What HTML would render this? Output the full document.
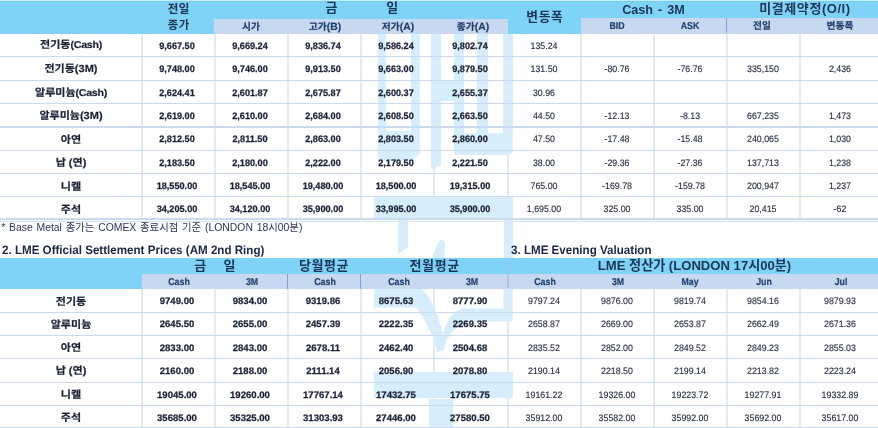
<!DOCTYPE html>
<html lang="ko"><head><meta charset="utf-8"><title>LME</title>
<style>
html,body{margin:0;padding:0;}
body{width:878px;height:428px;overflow:hidden;background:#fff;position:relative;
 font-family:"Liberation Sans","Noto Sans CJK KR",sans-serif;color:#1a2035;}
#root{position:absolute;left:0;top:0;width:878px;height:428px;overflow:hidden;opacity:0.999;filter:blur(0.35px);}
.b{position:absolute;}
.t{position:absolute;height:20px;line-height:20px;text-align:center;white-space:nowrap;}
.h1{font-size:11.4px;font-weight:bold;color:#1b3556;letter-spacing:0.6px;}
.h1b{font-size:13px;font-weight:bold;color:#1b3556;}
.h1c{font-size:12.8px;font-weight:bold;color:#1b3556;letter-spacing:0.7px;}
.h1d{font-size:12.6px;font-weight:bold;color:#1b3556;word-spacing:1.5px;}
.h1e{font-size:13px;font-weight:bold;color:#1b3556;letter-spacing:0.55px;}
.h2{font-size:13px;font-weight:bold;color:#1b3556;letter-spacing:0.6px;}
.h2d{font-size:13.1px;font-weight:bold;color:#1b3556;}
.sh{font-size:9.7px;font-weight:bold;color:#223f6b;-webkit-text-stroke:0.2px #223f6b;transform:rotate(0.03deg);}
.sh i{font-style:normal;font-size:10.4px;}
.shl{transform:rotate(0.03deg) scaleX(0.88);font-size:10px;}
.lab{font-size:10.3px;font-weight:bold;color:#1a2035;-webkit-text-stroke:0.2px #1a2035;transform:rotate(0.03deg) scaleX(1.07);}
.lab i{font-style:normal;font-size:10px;letter-spacing:-0.3px;}
.nb{font-size:9.4px;font-weight:bold;color:#1a2035;transform:rotate(0.03deg) scaleX(0.975);-webkit-text-stroke:0.25px #1a2035;}
.nb2{transform:rotate(0.03deg) scaleX(1.02);}
.nr{font-size:9.4px;color:#2a3045;transform:rotate(0.03deg) scaleX(0.94);-webkit-text-stroke:0.15px #2a3045;}
.note{font-size:10.4px;color:#27365a;word-spacing:0.9px;}
.sec{font-size:12.2px;font-weight:bold;color:#1a2745;transform-origin:0 50%;transform:rotate(0.03deg) scaleX(0.952);}
</style></head>
<body><div id="root">
<div class="b wm" style="left:0;top:0;width:878px;height:428px">
<div class="b" style="left:377.7px;top:33px;width:8.4px;height:100px;background:#d6edfb"></div>
<div class="b" style="left:410.6px;top:33px;width:9.8px;height:100px;background:#d6edfb"></div>
<div class="b" style="left:430.9px;top:33px;width:10.5px;height:133px;background:#d6edfb"></div>
<div class="b" style="left:430.9px;top:166px;width:5.1px;height:3px;background:#d6edfb"></div>
<div class="b" style="left:441.4px;top:80px;width:12.6px;height:21px;background:#d6edfb"></div>
<div class="b" style="left:454px;top:33px;width:9.8px;height:102px;background:#d6edfb"></div>
<div class="b" style="left:477px;top:33px;width:10.6px;height:102px;background:#d6edfb"></div>
<div class="b" style="left:503px;top:33px;width:9.8px;height:102px;background:#d6edfb"></div>
<div class="b" style="left:374.4px;top:197.1px;width:138.5px;height:21.5px;background:#d6edfb"></div>
<div class="b" style="left:503.6px;top:218.6px;width:9.3px;height:40px;background:#d6edfb"></div>
<div class="b" style="left:373.5px;top:372.3px;width:139.2px;height:26.2px;background:#d6edfb"></div>
<div class="b" style="left:428.6px;top:398.5px;width:24.3px;height:30px;background:#d6edfb"></div>
<div class="b" style="left:377.7px;top:130.5px;width:42.7px;height:30.1px;background:#d6edfb;clip-path:polygon(0.0px 0.0px,42.7px 0.0px,42.7px 22.5px,34.3px 30.1px,0.0px 30.1px)"></div>
<div class="b" style="left:454px;top:133.3px;width:58.8px;height:21.7px;background:#d6edfb;clip-path:polygon(0.0px 0.0px,58.8px 0.0px,58.8px 19.7px,55.3px 21.7px,0.0px 21.7px)"></div>
<div class="b" style="left:397.8px;top:218.6px;width:10.2px;height:35.4px;background:#d6edfb;clip-path:polygon(0.0px 0.0px,10.2px 0.0px,10.2px 28.4px,0.0px 35.4px)"></div>
<div class="b" style="left:431.4px;top:239.2px;width:13.3px;height:19.3px;background:#d6edfb;clip-path:polygon(8.4px 0.0px,13.3px 2.3px,13.3px 19.3px,0.0px 19.3px)"></div>
<div class="b" style="left:373.5px;top:289px;width:70.6px;height:63.3px;background:#d6edfb;clip-path:polygon(0.0px 0.0px,48.6px 0.0px,53.5px 5.5px,57.0px 11.0px,61.1px 19.0px,64.5px 27.8px,67.1px 36.0px,69.1px 44.6px,70.6px 60.5px,63.5px 63.3px,62.6px 57.7px,59.7px 49.5px,56.5px 42.0px,54.2px 37.0px,49.0px 27.5px,43.0px 18.4px,0.0px 18.4px)"></div>
<div class="b" style="left:441.7px;top:289px;width:71.0px;height:61.4px;background:#d6edfb;clip-path:polygon(61.7px 0.0px,71.0px 0.0px,71.0px 32.4px,29.0px 32.4px,20.3px 36.0px,14.0px 39.5px,8.8px 45.0px,4.7px 52.0px,1.9px 61.4px,0.0px 52.0px,1.9px 42.7px,4.8px 35.0px,8.4px 27.8px,14.3px 22.5px,21.5px 19.4px,61.7px 19.4px)"></div>
</div>
<div class="b" style="left:0.00px;top:0.00px;width:878.00px;height:18.90px;background:#7fd3f7;"></div>
<div class="b" style="left:0.00px;top:18.70px;width:215.00px;height:15.30px;background:#7fd3f7;"></div>
<div class="b" style="left:213.80px;top:18.70px;width:294.20px;height:15.30px;background:#c6d9f1;"></div>
<div class="b" style="left:508.00px;top:18.70px;width:73.00px;height:15.30px;background:#7fd3f7;"></div>
<div class="b" style="left:581.00px;top:17.80px;width:297.00px;height:16.20px;background:#c6d9f1;"></div>
<div class="b" style="left:0.00px;top:0.00px;width:878.00px;height:1.00px;background:#bff1fe;"></div>
<div class="b" style="left:0.00px;top:1.00px;width:878.00px;height:1.00px;background:#7bc9ee;"></div>
<div class="b" style="left:725.80px;top:18.20px;width:1.20px;height:15.20px;background:#7f9fd2;"></div>
<div class="b" style="left:141.45px;top:34.00px;width:1.10px;height:185.20px;background:#deeaf5;"></div>
<div class="b" style="left:214.45px;top:34.00px;width:1.10px;height:185.20px;background:#deeaf5;"></div>
<div class="b" style="left:287.45px;top:34.00px;width:1.10px;height:185.20px;background:#deeaf5;"></div>
<div class="b" style="left:360.45px;top:34.00px;width:1.10px;height:185.20px;background:#deeaf5;"></div>
<div class="b" style="left:433.45px;top:34.00px;width:1.10px;height:185.20px;background:#deeaf5;"></div>
<div class="b" style="left:507.45px;top:34.00px;width:1.10px;height:185.20px;background:#deeaf5;"></div>
<div class="b" style="left:580.45px;top:34.00px;width:1.10px;height:185.20px;background:#deeaf5;"></div>
<div class="b" style="left:653.45px;top:34.00px;width:1.10px;height:185.20px;background:#deeaf5;"></div>
<div class="b" style="left:726.45px;top:34.00px;width:1.10px;height:185.20px;background:#deeaf5;"></div>
<div class="b" style="left:799.45px;top:34.00px;width:1.10px;height:185.20px;background:#deeaf5;"></div>
<div class="b" style="left:0.00px;top:56.15px;width:878.00px;height:1.25px;background:#cbdbef;"></div>
<div class="b" style="left:0.00px;top:79.75px;width:878.00px;height:1.25px;background:#cbdbef;"></div>
<div class="b" style="left:0.00px;top:103.05px;width:878.00px;height:1.25px;background:#cbdbef;"></div>
<div class="b" style="left:0.00px;top:126.45px;width:878.00px;height:1.25px;background:#cbdbef;"></div>
<div class="b" style="left:0.00px;top:149.75px;width:878.00px;height:1.25px;background:#cbdbef;"></div>
<div class="b" style="left:0.00px;top:172.95px;width:878.00px;height:1.25px;background:#cbdbef;"></div>
<div class="b" style="left:0.00px;top:195.95px;width:878.00px;height:1.25px;background:#cbdbef;"></div>
<div class="b" style="left:0.00px;top:218.40px;width:878.00px;height:1.20px;background:#cbdbef;"></div>
<div class="b" style="left:0.00px;top:221.10px;width:878.00px;height:1.10px;background:#d6e3f3;"></div>
<div class="t h1" style="left:98.80px;top:-0.70px;width:160px;">전일</div>
<div class="t h1" style="left:98.80px;top:15.30px;width:160px;">종가</div>
<div class="t h1b" style="left:251.60px;top:-1.60px;width:160px;">금</div>
<div class="t h1b" style="left:312.20px;top:-1.60px;width:160px;">일</div>
<div class="t h1c" style="left:464.90px;top:7.00px;width:160px;">변동폭</div>
<div class="t h1d" style="left:573.40px;top:-0.40px;width:160px;">Cash - 3M</div>
<div class="t h1e" style="left:725.00px;top:-1.40px;width:160px;">미결제약정(O/I)</div>
<div class="t sh" style="left:171.25px;top:17.00px;width:160px;">시가</div>
<div class="t sh" style="left:244.70px;top:17.00px;width:160px;">고가<i>(B)</i></div>
<div class="t sh" style="left:318.20px;top:17.00px;width:160px;">저가<i>(A)</i></div>
<div class="t sh" style="left:392.55px;top:17.00px;width:160px;">종가<i>(A)</i></div>
<div class="t sh shl" style="left:537.40px;top:16.30px;width:160px;">BID</div>
<div class="t sh shl" style="left:610.05px;top:16.30px;width:160px;">ASK</div>
<div class="t sh" style="left:681.95px;top:16.30px;width:160px;">전일</div>
<div class="t sh" style="left:760.40px;top:16.30px;width:160px;">변동폭</div>
<div class="t lab" style="left:-8.70px;top:35.40px;width:160px;">전기동<i>(Cash)</i></div>
<div class="t nb" style="left:97.20px;top:35.90px;width:160px;">9,667.50</div>
<div class="t nb" style="left:170.20px;top:35.90px;width:160px;">9,669.24</div>
<div class="t nb" style="left:243.20px;top:35.90px;width:160px;">9,836.74</div>
<div class="t nb" style="left:316.20px;top:35.90px;width:160px;">9,586.24</div>
<div class="t nb" style="left:389.70px;top:35.90px;width:160px;">9,802.74</div>
<div class="t nr" style="left:463.50px;top:35.80px;width:160px;">135.24</div>
<div class="t lab" style="left:-8.70px;top:59.00px;width:160px;">전기동(3M)</div>
<div class="t nb" style="left:97.20px;top:59.30px;width:160px;">9,748.00</div>
<div class="t nb" style="left:170.20px;top:59.30px;width:160px;">9,746.00</div>
<div class="t nb" style="left:243.20px;top:59.30px;width:160px;">9,913.50</div>
<div class="t nb" style="left:316.20px;top:59.30px;width:160px;">9,663.00</div>
<div class="t nb" style="left:389.70px;top:59.30px;width:160px;">9,879.50</div>
<div class="t nr" style="left:463.50px;top:59.20px;width:160px;">131.50</div>
<div class="t nr" style="left:536.50px;top:59.20px;width:160px;">-80.76</div>
<div class="t nr" style="left:609.50px;top:59.20px;width:160px;">-76.76</div>
<div class="t nr" style="left:682.50px;top:59.20px;width:160px;">335,150</div>
<div class="t nr" style="left:760.10px;top:59.20px;width:160px;">2,436</div>
<div class="t lab" style="left:-8.70px;top:82.65px;width:160px;">알루미늄<i>(Cash)</i></div>
<div class="t nb" style="left:97.20px;top:82.75px;width:160px;">2,624.41</div>
<div class="t nb" style="left:170.20px;top:82.75px;width:160px;">2,601.87</div>
<div class="t nb" style="left:243.20px;top:82.75px;width:160px;">2,675.87</div>
<div class="t nb" style="left:316.20px;top:82.75px;width:160px;">2,600.37</div>
<div class="t nb" style="left:389.70px;top:82.75px;width:160px;">2,655.37</div>
<div class="t nr" style="left:463.50px;top:82.65px;width:160px;">30.96</div>
<div class="t lab" style="left:-8.70px;top:106.20px;width:160px;">알루미늄(3M)</div>
<div class="t nb" style="left:97.20px;top:106.10px;width:160px;">2,619.00</div>
<div class="t nb" style="left:170.20px;top:106.10px;width:160px;">2,610.00</div>
<div class="t nb" style="left:243.20px;top:106.10px;width:160px;">2,684.00</div>
<div class="t nb" style="left:316.20px;top:106.10px;width:160px;">2,608.50</div>
<div class="t nb" style="left:389.70px;top:106.10px;width:160px;">2,663.50</div>
<div class="t nr" style="left:463.50px;top:106.00px;width:160px;">44.50</div>
<div class="t nr" style="left:536.50px;top:106.00px;width:160px;">-12.13</div>
<div class="t nr" style="left:609.50px;top:106.00px;width:160px;">-8.13</div>
<div class="t nr" style="left:682.50px;top:106.00px;width:160px;">667,235</div>
<div class="t nr" style="left:760.10px;top:106.00px;width:160px;">1,473</div>
<div class="t lab" style="left:-8.70px;top:129.75px;width:160px;">아연</div>
<div class="t nb" style="left:97.20px;top:129.45px;width:160px;">2,812.50</div>
<div class="t nb" style="left:170.20px;top:129.45px;width:160px;">2,811.50</div>
<div class="t nb" style="left:243.20px;top:129.45px;width:160px;">2,863.00</div>
<div class="t nb" style="left:316.20px;top:129.45px;width:160px;">2,803.50</div>
<div class="t nb" style="left:389.70px;top:129.45px;width:160px;">2,860.00</div>
<div class="t nr" style="left:463.50px;top:129.35px;width:160px;">47.50</div>
<div class="t nr" style="left:536.50px;top:129.35px;width:160px;">-17.48</div>
<div class="t nr" style="left:609.50px;top:129.35px;width:160px;">-15.48</div>
<div class="t nr" style="left:682.50px;top:129.35px;width:160px;">240,065</div>
<div class="t nr" style="left:760.10px;top:129.35px;width:160px;">1,030</div>
<div class="t lab" style="left:-8.70px;top:153.20px;width:160px;">납 (연)</div>
<div class="t nb" style="left:97.20px;top:152.70px;width:160px;">2,183.50</div>
<div class="t nb" style="left:170.20px;top:152.70px;width:160px;">2,180.00</div>
<div class="t nb" style="left:243.20px;top:152.70px;width:160px;">2,222.00</div>
<div class="t nb" style="left:316.20px;top:152.70px;width:160px;">2,179.50</div>
<div class="t nb" style="left:389.70px;top:152.70px;width:160px;">2,221.50</div>
<div class="t nr" style="left:463.50px;top:152.60px;width:160px;">38.00</div>
<div class="t nr" style="left:536.50px;top:152.60px;width:160px;">-29.36</div>
<div class="t nr" style="left:609.50px;top:152.60px;width:160px;">-27.36</div>
<div class="t nr" style="left:682.50px;top:152.60px;width:160px;">137,713</div>
<div class="t nr" style="left:760.10px;top:152.60px;width:160px;">1,238</div>
<div class="t lab" style="left:-8.70px;top:176.50px;width:160px;">니켈</div>
<div class="t nb" style="left:97.20px;top:175.80px;width:160px;">18,550.00</div>
<div class="t nb" style="left:170.20px;top:175.80px;width:160px;">18,545.00</div>
<div class="t nb" style="left:243.20px;top:175.80px;width:160px;">19,480.00</div>
<div class="t nb" style="left:316.20px;top:175.80px;width:160px;">18,500.00</div>
<div class="t nb" style="left:389.70px;top:175.80px;width:160px;">19,315.00</div>
<div class="t nr" style="left:463.50px;top:175.70px;width:160px;">765.00</div>
<div class="t nr" style="left:536.50px;top:175.70px;width:160px;">-169.78</div>
<div class="t nr" style="left:609.50px;top:175.70px;width:160px;">-159.78</div>
<div class="t nr" style="left:682.50px;top:175.70px;width:160px;">200,947</div>
<div class="t nr" style="left:760.10px;top:175.70px;width:160px;">1,237</div>
<div class="t lab" style="left:-8.70px;top:199.60px;width:160px;">주석</div>
<div class="t nb" style="left:97.20px;top:198.70px;width:160px;">34,205.00</div>
<div class="t nb" style="left:170.20px;top:198.70px;width:160px;">34,120.00</div>
<div class="t nb" style="left:243.20px;top:198.70px;width:160px;">35,900.00</div>
<div class="t nb" style="left:316.20px;top:198.70px;width:160px;">33,995.00</div>
<div class="t nb" style="left:389.70px;top:198.70px;width:160px;">35,900.00</div>
<div class="t nr" style="left:463.50px;top:198.60px;width:160px;">1,695.00</div>
<div class="t nr" style="left:536.50px;top:198.60px;width:160px;">325.00</div>
<div class="t nr" style="left:609.50px;top:198.60px;width:160px;">335.00</div>
<div class="t nr" style="left:682.50px;top:198.60px;width:160px;">20,415</div>
<div class="t nr" style="left:760.10px;top:198.60px;width:160px;">-62</div>
<div class="t note" style="left:1.2px;top:217.90px;text-align:left;">* Base Metal 종가는 COMEX 종료시점 기준 (LONDON 18시00분)</div>
<div class="t sec" style="left:1.5px;top:239.90px;text-align:left;">2. LME Official Settlement Prices (AM 2nd Ring)</div>
<div class="t sec" style="left:511px;top:239.90px;text-align:left;">3. LME Evening Valuation</div>
<div class="b" style="left:0.00px;top:258.20px;width:878.00px;height:15.50px;background:#7fd3f7;"></div>
<div class="b" style="left:0.00px;top:273.50px;width:142.00px;height:15.70px;background:#7fd3f7;"></div>
<div class="b" style="left:142.00px;top:273.50px;width:736.00px;height:15.70px;background:#c6d9f1;"></div>
<div class="b" style="left:286.80px;top:274.00px;width:1.20px;height:14.70px;background:#7f9fd2;"></div>
<div class="b" style="left:359.80px;top:274.00px;width:1.20px;height:14.70px;background:#7f9fd2;"></div>
<div class="b" style="left:506.50px;top:273.50px;width:2.80px;height:14.50px;background:#b0c3e1;"></div>
<div class="b" style="left:506.50px;top:259.40px;width:2.80px;height:14.10px;background:#9cc5ea;"></div>
<div class="b" style="left:141.45px;top:289.20px;width:1.10px;height:138.80px;background:#deeaf5;"></div>
<div class="b" style="left:214.45px;top:289.20px;width:1.10px;height:138.80px;background:#deeaf5;"></div>
<div class="b" style="left:287.45px;top:289.20px;width:1.10px;height:138.80px;background:#deeaf5;"></div>
<div class="b" style="left:360.45px;top:289.20px;width:1.10px;height:138.80px;background:#deeaf5;"></div>
<div class="b" style="left:433.45px;top:289.20px;width:1.10px;height:138.80px;background:#deeaf5;"></div>
<div class="b" style="left:507.45px;top:289.20px;width:1.10px;height:138.80px;background:#deeaf5;"></div>
<div class="b" style="left:580.45px;top:289.20px;width:1.10px;height:138.80px;background:#deeaf5;"></div>
<div class="b" style="left:653.45px;top:289.20px;width:1.10px;height:138.80px;background:#deeaf5;"></div>
<div class="b" style="left:726.45px;top:289.20px;width:1.10px;height:138.80px;background:#deeaf5;"></div>
<div class="b" style="left:799.45px;top:289.20px;width:1.10px;height:138.80px;background:#deeaf5;"></div>
<div class="b" style="left:0.00px;top:311.55px;width:878.00px;height:1.25px;background:#cbdbef;"></div>
<div class="b" style="left:0.00px;top:334.75px;width:878.00px;height:1.25px;background:#cbdbef;"></div>
<div class="b" style="left:0.00px;top:358.15px;width:878.00px;height:1.25px;background:#cbdbef;"></div>
<div class="b" style="left:0.00px;top:381.55px;width:878.00px;height:1.25px;background:#cbdbef;"></div>
<div class="b" style="left:0.00px;top:404.95px;width:878.00px;height:1.25px;background:#cbdbef;"></div>
<div class="b" style="left:0.00px;top:427.25px;width:878.00px;height:1.25px;background:#cbdbef;"></div>
<div class="t h1b" style="left:120.20px;top:255.80px;width:160px;">금</div>
<div class="t h1b" style="left:149.50px;top:255.80px;width:160px;">일</div>
<div class="t h2" style="left:244.00px;top:255.90px;width:160px;">당월평균</div>
<div class="t h2" style="left:354.70px;top:255.90px;width:160px;">전월평균</div>
<div class="t h2d" style="left:544.50px;top:256.00px;width:300px;">LME 정산가 (LONDON 17시00분)</div>
<div class="t sh shl" style="left:98.80px;top:272.00px;width:160px;">Cash</div>
<div class="t sh shl" style="left:171.85px;top:272.00px;width:160px;">3M</div>
<div class="t sh shl" style="left:244.90px;top:272.00px;width:160px;">Cash</div>
<div class="t sh shl" style="left:318.60px;top:272.00px;width:160px;">Cash</div>
<div class="t sh shl" style="left:391.95px;top:272.00px;width:160px;">3M</div>
<div class="t sh shl" style="left:464.75px;top:272.00px;width:160px;">Cash</div>
<div class="t sh shl" style="left:537.80px;top:272.00px;width:160px;">3M</div>
<div class="t sh shl" style="left:610.25px;top:272.00px;width:160px;">May</div>
<div class="t sh shl" style="left:683.55px;top:272.00px;width:160px;">Jun</div>
<div class="t sh shl" style="left:761.20px;top:272.00px;width:160px;">Jul</div>
<div class="t lab" style="left:-8.70px;top:291.60px;width:160px;">전기동</div>
<div class="t nb nb2" style="left:97.20px;top:291.00px;width:160px;">9749.00</div>
<div class="t nb nb2" style="left:170.20px;top:291.00px;width:160px;">9834.00</div>
<div class="t nb nb2" style="left:243.20px;top:291.00px;width:160px;">9319.86</div>
<div class="t nb nb2" style="left:316.20px;top:291.00px;width:160px;">8675.63</div>
<div class="t nb nb2" style="left:389.70px;top:291.00px;width:160px;">8777.90</div>
<div class="t nr" style="left:463.50px;top:291.00px;width:160px;">9797.24</div>
<div class="t nr" style="left:536.50px;top:291.00px;width:160px;">9876.00</div>
<div class="t nr" style="left:609.50px;top:291.00px;width:160px;">9819.74</div>
<div class="t nr" style="left:682.50px;top:291.00px;width:160px;">9854.16</div>
<div class="t nr" style="left:760.10px;top:291.00px;width:160px;">9879.93</div>
<div class="t lab" style="left:-8.70px;top:314.70px;width:160px;">알루미늄</div>
<div class="t nb nb2" style="left:97.20px;top:314.22px;width:160px;">2645.50</div>
<div class="t nb nb2" style="left:170.20px;top:314.22px;width:160px;">2655.00</div>
<div class="t nb nb2" style="left:243.20px;top:314.22px;width:160px;">2457.39</div>
<div class="t nb nb2" style="left:316.20px;top:314.22px;width:160px;">2222.35</div>
<div class="t nb nb2" style="left:389.70px;top:314.22px;width:160px;">2269.35</div>
<div class="t nr" style="left:463.50px;top:314.20px;width:160px;">2658.87</div>
<div class="t nr" style="left:536.50px;top:314.20px;width:160px;">2669.00</div>
<div class="t nr" style="left:609.50px;top:314.20px;width:160px;">2653.87</div>
<div class="t nr" style="left:682.50px;top:314.20px;width:160px;">2662.49</div>
<div class="t nr" style="left:760.10px;top:314.20px;width:160px;">2671.36</div>
<div class="t lab" style="left:-8.70px;top:338.00px;width:160px;">아연</div>
<div class="t nb nb2" style="left:97.20px;top:337.64px;width:160px;">2833.00</div>
<div class="t nb nb2" style="left:170.20px;top:337.64px;width:160px;">2843.00</div>
<div class="t nb nb2" style="left:243.20px;top:337.64px;width:160px;">2678.11</div>
<div class="t nb nb2" style="left:316.20px;top:337.64px;width:160px;">2462.40</div>
<div class="t nb nb2" style="left:389.70px;top:337.64px;width:160px;">2504.68</div>
<div class="t nr" style="left:463.50px;top:337.60px;width:160px;">2835.52</div>
<div class="t nr" style="left:536.50px;top:337.60px;width:160px;">2852.00</div>
<div class="t nr" style="left:609.50px;top:337.60px;width:160px;">2849.52</div>
<div class="t nr" style="left:682.50px;top:337.60px;width:160px;">2849.23</div>
<div class="t nr" style="left:760.10px;top:337.60px;width:160px;">2855.03</div>
<div class="t lab" style="left:-8.70px;top:361.40px;width:160px;">납 (연)</div>
<div class="t nb nb2" style="left:97.20px;top:361.16px;width:160px;">2160.00</div>
<div class="t nb nb2" style="left:170.20px;top:361.16px;width:160px;">2188.00</div>
<div class="t nb nb2" style="left:243.20px;top:361.16px;width:160px;">2111.14</div>
<div class="t nb nb2" style="left:316.20px;top:361.16px;width:160px;">2056.90</div>
<div class="t nb nb2" style="left:389.70px;top:361.16px;width:160px;">2078.80</div>
<div class="t nr" style="left:463.50px;top:361.10px;width:160px;">2190.14</div>
<div class="t nr" style="left:536.50px;top:361.10px;width:160px;">2218.50</div>
<div class="t nr" style="left:609.50px;top:361.10px;width:160px;">2199.14</div>
<div class="t nr" style="left:682.50px;top:361.10px;width:160px;">2213.82</div>
<div class="t nr" style="left:760.10px;top:361.10px;width:160px;">2223.24</div>
<div class="t lab" style="left:-8.70px;top:384.80px;width:160px;">니켈</div>
<div class="t nb nb2" style="left:97.20px;top:384.68px;width:160px;">19045.00</div>
<div class="t nb nb2" style="left:170.20px;top:384.68px;width:160px;">19260.00</div>
<div class="t nb nb2" style="left:243.20px;top:384.68px;width:160px;">17767.14</div>
<div class="t nb nb2" style="left:316.20px;top:384.68px;width:160px;">17432.75</div>
<div class="t nb nb2" style="left:389.70px;top:384.68px;width:160px;">17675.75</div>
<div class="t nr" style="left:463.50px;top:384.60px;width:160px;">19161.22</div>
<div class="t nr" style="left:536.50px;top:384.60px;width:160px;">19326.00</div>
<div class="t nr" style="left:609.50px;top:384.60px;width:160px;">19223.72</div>
<div class="t nr" style="left:682.50px;top:384.60px;width:160px;">19277.91</div>
<div class="t nr" style="left:760.10px;top:384.60px;width:160px;">19332.89</div>
<div class="t lab" style="left:-8.70px;top:407.65px;width:160px;">주석</div>
<div class="t nb nb2" style="left:97.20px;top:407.65px;width:160px;">35685.00</div>
<div class="t nb nb2" style="left:170.20px;top:407.65px;width:160px;">35325.00</div>
<div class="t nb nb2" style="left:243.20px;top:407.65px;width:160px;">31303.93</div>
<div class="t nb nb2" style="left:316.20px;top:407.65px;width:160px;">27446.00</div>
<div class="t nb nb2" style="left:389.70px;top:407.65px;width:160px;">27580.50</div>
<div class="t nr" style="left:463.50px;top:407.55px;width:160px;">35912.00</div>
<div class="t nr" style="left:536.50px;top:407.55px;width:160px;">35582.00</div>
<div class="t nr" style="left:609.50px;top:407.55px;width:160px;">35992.00</div>
<div class="t nr" style="left:682.50px;top:407.55px;width:160px;">35692.00</div>
<div class="t nr" style="left:760.10px;top:407.55px;width:160px;">35617.00</div>
</div></body></html>
